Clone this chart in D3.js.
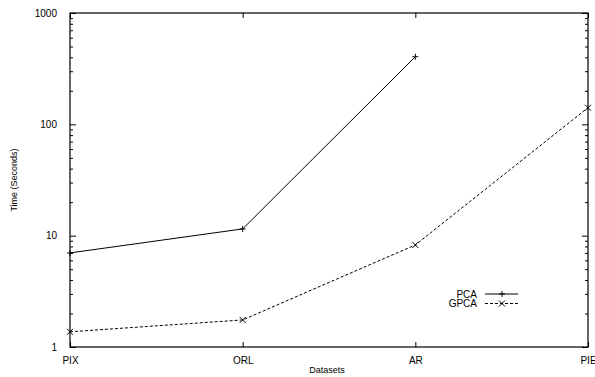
<!DOCTYPE html>
<html>
<head>
<meta charset="utf-8">
<script src="https://cdn.jsdelivr.net/npm/d3@7"></script>
<style>
  body { margin: 0; background: #fff; }
  text { font-family: "Liberation Sans", Arial, sans-serif; font-size: 10px; fill: #000; }
</style>
</head>
<body>
<script>
// categories and series values (seconds, log scale)
var datasets = ["PIX", "ORL", "AR", "PIE"];
var pcaTimes = [7.0, 11.5, 405, null];
var gpcaTimes = [1.37, 1.75, 8.25, 141];
var yTickValues = [1, 10, 100, 1000];

var width = 595, height = 377;
var margin = { top: 13, right: 7, bottom: 30, left: 70 };
var plotW = width - margin.left - margin.right;
var plotH = height - margin.top - margin.bottom;

var svg = d3.select("body").append("svg")
    .attr("width", width)
    .attr("height", height);

var g = svg.append("g")
    .attr("transform", "translate(" + margin.left + "," + margin.top + ")");

var x = d3.scalePoint()
    .domain(datasets)
    .range([0, plotW]);

var y = d3.scaleLog()
    .domain([1, 1000])
    .range([plotH, 0]);

//Minor ticks (2..9 in each decade) on left and right
var minorTicks = y.ticks().filter(function (t) { return yTickValues.indexOf(t) < 0; });

g.append("g")
    .call(d3.axisLeft(y).tickValues(minorTicks).tickSize(-3).tickFormat(""))
    .call(function (a) { a.select(".domain").remove(); });
g.append("g")
    .attr("transform", "translate(" + plotW + ",0)")
    .call(d3.axisRight(y).tickValues(minorTicks).tickSize(-3).tickFormat(""))
    .call(function (a) { a.select(".domain").remove(); });

//Major ticks with labels
g.append("g")
    .call(d3.axisLeft(y).tickValues(yTickValues).tickSize(-6).tickPadding(13).tickFormat(d3.format("d")))
    .call(function (a) { a.select(".domain").remove(); });
g.append("g")
    .attr("transform", "translate(" + plotW + ",0)")
    .call(d3.axisRight(y).tickValues(yTickValues).tickSize(-6).tickFormat(""))
    .call(function (a) { a.select(".domain").remove(); });

//X axis ticks bottom and top
g.append("g")
    .attr("transform", "translate(0," + plotH + ")")
    .call(d3.axisBottom(x).tickSize(-5).tickPadding(10))
    .call(function (a) { a.select(".domain").remove(); });
g.append("g")
    .call(d3.axisTop(x).tickSize(-5).tickFormat(""))
    .call(function (a) { a.select(".domain").remove(); });

g.selectAll(".tick line").attr("stroke", "#000").attr("stroke-width", 1);
g.selectAll(".tick text").style("font-size", "10px").style("font-family", "'Liberation Sans', Arial, sans-serif");

//Border
g.append("rect")
    .attr("width", plotW)
    .attr("height", plotH)
    .attr("fill", "none")
    .attr("stroke", "#000")
    .attr("stroke-width", 1.2);

//Axis titles
svg.append("text")
    .attr("x", margin.left + plotW / 2 - 2)
    .attr("y", 373)
    .attr("text-anchor", "middle")
    .style("font-size", "9px")
    .text("Datasets");

svg.append("text")
    .attr("transform", "translate(17," + (margin.top + plotH / 2) + ") rotate(-90)")
    .attr("text-anchor", "middle")
    .style("font-size", "9px")
    .text("Time (Seconds)");

//Series
var series = [
    { name: "PCA", values: pcaTimes, dash: null, marker: "plus" },
    { name: "GPCA", values: gpcaTimes, dash: "3,2", marker: "cross" }
];

var line = d3.line()
    .defined(function (d) { return d.v != null; })
    .x(function (d) { return x(d.c); })
    .y(function (d) { return y(d.v); });

function drawMarker(sel, type, cx, cy) {
    var s = 3;
    var p = type === "plus"
        ? "M" + (cx - s) + "," + cy + "H" + (cx + s) + "M" + cx + "," + (cy - s) + "V" + (cy + s)
        : "M" + (cx - s) + "," + (cy - s) + "L" + (cx + s) + "," + (cy + s) + "M" + (cx - s) + "," + (cy + s) + "L" + (cx + s) + "," + (cy - s);
    sel.append("path").attr("d", p).attr("stroke", "#000").attr("stroke-width", 1).attr("fill", "none");
}

series.forEach(function (s) {
    var pts = datasets.map(function (c, i) { return { c: c, v: s.values[i] }; });
    g.append("path")
        .datum(pts)
        .attr("d", line)
        .attr("fill", "none")
        .attr("stroke", "#000")
        .attr("stroke-width", 1)
        .attr("stroke-dasharray", s.dash);
    pts.filter(function (d) { return d.v != null; }).forEach(function (d) {
        drawMarker(g, s.marker, x(d.c), y(d.v));
    });
});

//Legend
var legend = svg.append("g");
series.forEach(function (s, i) {
    var ly = 294 + i * 9.5;
    legend.append("text")
        .attr("x", 477)
        .attr("y", ly + 3.5)
        .attr("text-anchor", "end")
        .text(s.name);
    legend.append("line")
        .attr("x1", 485).attr("x2", 518)
        .attr("y1", ly).attr("y2", ly)
        .attr("stroke", "#000")
        .attr("stroke-width", 1)
        .attr("stroke-dasharray", s.dash);
    drawMarker(legend, s.marker, 502, ly);
});
</script>
</body>
</html>
